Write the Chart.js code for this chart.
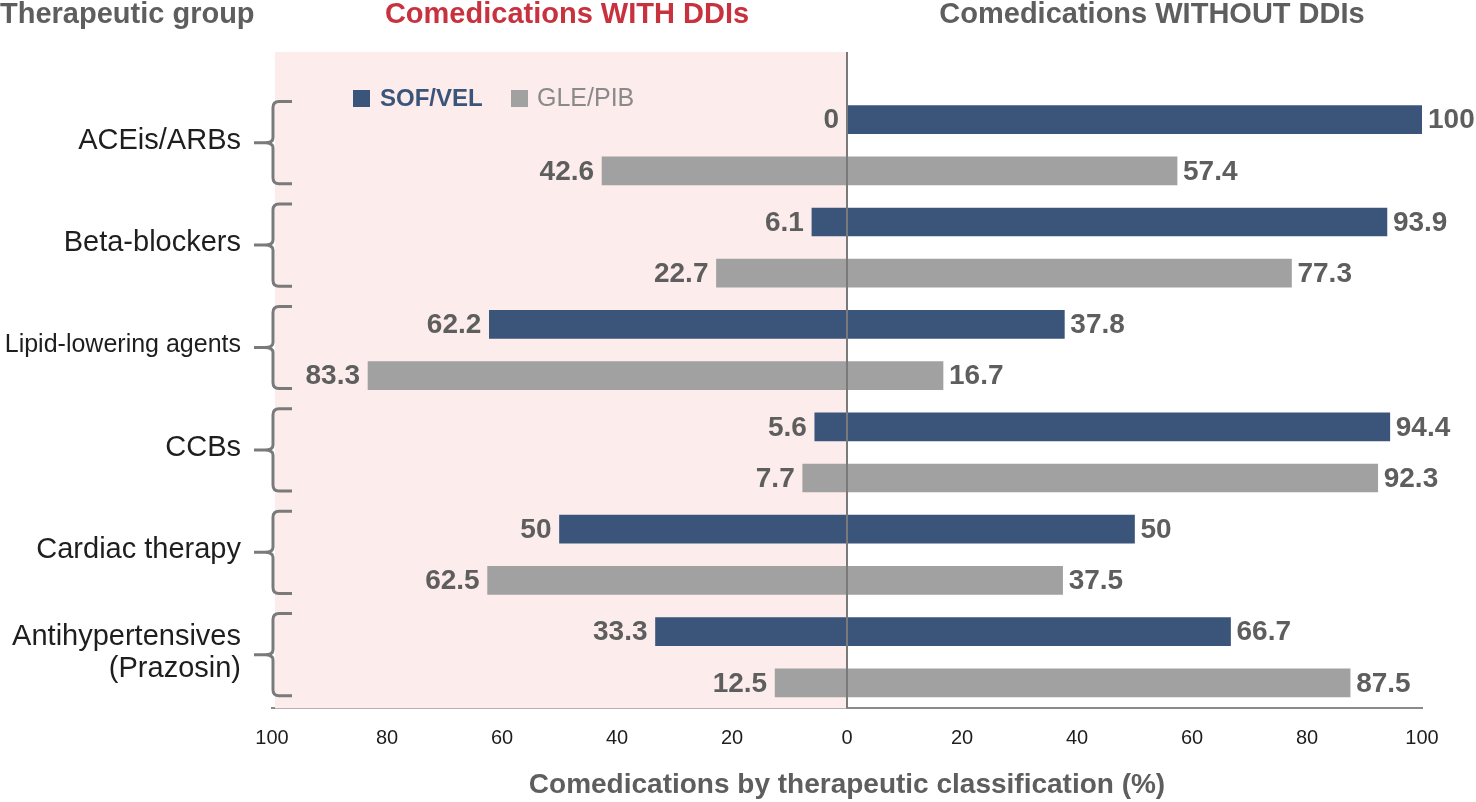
<!DOCTYPE html>
<html>
<head>
<meta charset="utf-8">
<script src="https://cdn.jsdelivr.net/npm/chart.js@4/dist/chart.umd.min.js"></script>
<style>
  html, body { margin: 0; padding: 0; background: #fff; }
  #wrap { width: 1476px; height: 802px; position: relative; }
</style>
</head>
<body>
<div id="wrap"><canvas id="ddiChart"></canvas></div>
<script>
const groups = ['ACEis/ARBs', 'Beta-blockers', 'Lipid-lowering agents', 'CCBs', 'Cardiac therapy', 'Antihypertensives\n(Prazosin)'];
const drugs = ['SOF/VEL', 'GLE/PIB'];
const sofWith = [0, 6.1, 62.2, 5.6, 50, 33.3];
const sofWithout = [100, 93.9, 37.8, 94.4, 50, 66.7];
const gleWith = [42.6, 22.7, 83.3, 7.7, 62.5, 12.5];
const gleWithout = [57.4, 77.3, 16.7, 92.3, 37.5, 87.5];
const xTicks = [-100, -80, -60, -40, -20, 0, 20, 40, 60, 80, 100];

const NAVY = '#3a5579';
const GREY = '#a0a1a0';
const TEXT_GREY = '#5e5e5e';
const FONT = '"Liberation Sans", Arial, sans-serif';

// one category per bar: SOF/VEL then GLE/PIB for each group
const labels = [];
const withVals = [];
const withoutVals = [];
const barColors = [];
groups.forEach((g, i) => {
    labels.push(g + ' ' + drugs[0], g + ' ' + drugs[1]);
    withVals.push(-sofWith[i], -gleWith[i]);
    withoutVals.push(sofWithout[i], gleWithout[i]);
    barColors.push(NAVY, GREY);
});

const decorPlugin = {
    id: 'decor',
    beforeDatasetsDraw(chart) {
        const ctx = chart.ctx;
        const x = chart.scales.x;
        const area = chart.chartArea;
        const left = x.getPixelForValue(-100) + 3;
        const zero = x.getPixelForValue(0);
        ctx.save();
        ctx.fillStyle = '#fcecec';
        ctx.fillRect(left, 52, zero - left, area.bottom - 52);
        ctx.restore();
    },
    afterDatasetsDraw(chart) {
        const ctx = chart.ctx;
        const x = chart.scales.x;
        const y = chart.scales.y;
        const area = chart.chartArea;
        const zero = x.getPixelForValue(0);

        // zero line
        ctx.save();
        ctx.strokeStyle = '#7a7a7a';
        ctx.lineWidth = 2;
        ctx.beginPath();
        ctx.moveTo(zero, 52);
        ctx.lineTo(zero, area.bottom);
        ctx.stroke();

        // value labels
        ctx.font = 'bold 28px ' + FONT;
        ctx.fillStyle = TEXT_GREY;
        ctx.textBaseline = 'middle';
        const m0 = chart.getDatasetMeta(0);
        const m1 = chart.getDatasetMeta(1);
        m0.data.forEach((bar, i) => {
            ctx.textAlign = 'right';
            ctx.fillText(String(-withVals[i]), bar.x - 8, bar.y + 1);
        });
        m1.data.forEach((bar, i) => {
            ctx.textAlign = 'left';
            ctx.fillText(String(withoutVals[i]), bar.x + 6, bar.y + 1);
        });

        // group labels and brackets
        groups.forEach((g, i) => {
            const y1 = y.getPixelForValue(2 * i);
            const y2 = y.getPixelForValue(2 * i + 1);
            const top = y1 - 18;
            const bottom = y2 + 13;
            const mid = (top + bottom) / 2;
            const bx = 273;
            ctx.strokeStyle = '#7a7a7a';
            ctx.lineWidth = 3;
            ctx.beginPath();
            ctx.moveTo(292, top);
            ctx.lineTo(bx + 6, top);
            ctx.quadraticCurveTo(bx, top, bx, top + 6);
            ctx.lineTo(bx, mid - 5);
            ctx.quadraticCurveTo(bx, mid, bx - 8, mid);
            ctx.lineTo(254, mid);
            ctx.moveTo(bx - 8, mid);
            ctx.quadraticCurveTo(bx, mid, bx, mid + 5);
            ctx.lineTo(bx, bottom - 6);
            ctx.quadraticCurveTo(bx, bottom, bx + 6, bottom);
            ctx.lineTo(292, bottom);
            ctx.stroke();

            ctx.fillStyle = '#1e1e1e';
            ctx.textAlign = 'right';
            ctx.textBaseline = 'middle';
            const lines = g.split('\n');
            const size = g.length > 18 && lines.length === 1 ? 25 : 29;
            ctx.font = size + 'px ' + FONT;
            const lh = 32;
            lines.forEach((line, k) => {
                ctx.fillText(line, 241, mid - 2 + (k - (lines.length - 1) / 2) * lh);
            });
        });

        // legend
        ctx.fillStyle = NAVY;
        ctx.fillRect(353, 90, 17, 17);
        ctx.font = 'bold 24px ' + FONT;
        ctx.textAlign = 'left';
        ctx.fillText(drugs[0], 380, 99);
        ctx.fillStyle = GREY;
        ctx.fillRect(511, 90, 17, 17);
        ctx.fillStyle = '#8a8a8a';
        ctx.font = '25px ' + FONT;
        ctx.fillText(drugs[1], 537, 99);

        // headers
        ctx.font = 'bold 29px ' + FONT;
        ctx.fillStyle = TEXT_GREY;
        ctx.textAlign = 'left';
        ctx.fillText('Therapeutic group', 0, 15);
        ctx.textAlign = 'center';
        ctx.fillStyle = '#c8313e';
        ctx.fillText('Comedications WITH DDIs', 567, 15);
        ctx.fillStyle = TEXT_GREY;
        ctx.fillText('Comedications WITHOUT DDIs', 1152, 15);
        ctx.restore();
    }
};

new Chart(document.getElementById('ddiChart'), {
    type: 'bar',
    data: {
        labels: labels,
        datasets: [{
            label: 'Comedications WITH DDIs',
            data: withVals,
            backgroundColor: barColors,
            barThickness: 28
        }, {
            label: 'Comedications WITHOUT DDIs',
            data: withoutVals,
            backgroundColor: barColors,
            barThickness: 28
        }]
    },
    options: {
        indexAxis: 'y',
        responsive: true,
        maintainAspectRatio: false,
        animation: false,
        layout: {
            padding: { left: 272, right: 54, top: 94, bottom: 0 }
        },
        scales: {
            x: {
                stacked: true,
                min: -100,
                max: 100,
                afterBuildTicks: axis => { axis.ticks = xTicks.map(v => ({ value: v })); },
                grid: { display: false, drawTicks: false },
                border: { display: true, color: '#8a8a8a', width: 2 },
                ticks: {
                    padding: 18,
                    color: '#1e1e1e',
                    font: { family: FONT, size: 20 },
                    callback: v => Math.abs(v)
                },
                title: {
                    display: true,
                    text: 'Comedications by therapeutic classification (%)',
                    color: TEXT_GREY,
                    font: { family: FONT, size: 28, weight: 'bold' },
                    padding: { top: 0, bottom: 0 }
                }
            },
            y: {
                stacked: true,
                display: false
            }
        },
        plugins: {
            legend: { display: false },
            tooltip: { enabled: false }
        }
    },
    plugins: [decorPlugin]
});
</script>
</body>
</html>
